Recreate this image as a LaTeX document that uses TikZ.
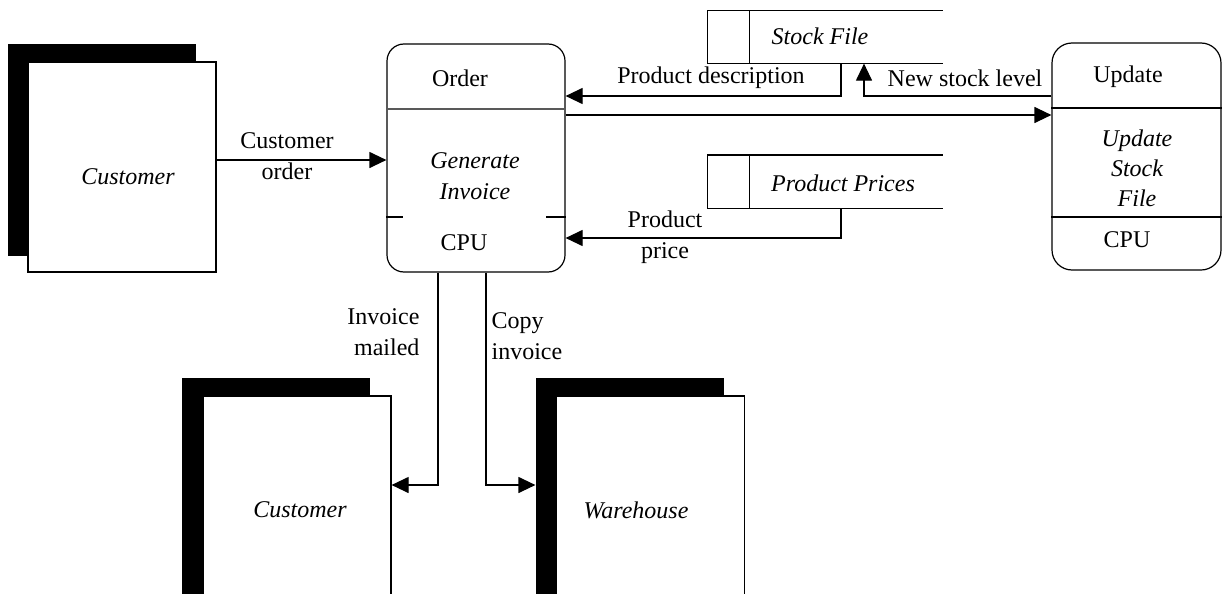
\documentclass[tikz,border=0pt]{standalone}
\usepackage{fontspec}
\setmainfont{Liberation Serif}
\usetikzlibrary{arrows.meta}
\begin{document}
\begin{tikzpicture}[x=1pt,y=-1pt,
  line width=1.2pt,
  every node/.style={font=\fontsize{24}{31}\selectfont, inner sep=0pt},
  flow/.style={-{Triangle[length=17pt,width=16pt]}},
  entity/.style={draw, fill=white, minimum width=188pt},
  entshadow/.style={fill=black, minimum width=188pt},
  proc/.style={draw, rounded corners=17pt},
  datastore/.style={minimum width=234pt, minimum height=52pt},
  lbl/.style={align=center},
  ename/.style={font=\fontsize{24}{31}\selectfont\itshape, align=center}]
\useasboundingbox (0,0) rectangle (1223,594);

% external entity: customer (source)
\node[entshadow, minimum height=212pt] (custsh) at (102,150) {};
\node[entity, minimum height=210pt] (cust) at (122,167) {};
\node[ename] at (128,177) {Customer};

% process: generate invoice
\node[proc, minimum width=178pt, minimum height=228pt] (order) at (476,158) {};
\draw[gray!70!black, line width=1.6pt] ([yshift=49pt]order.west) -- ([yshift=49pt]order.east);
\draw ([yshift=-59pt]order.west) -- ++(17,0);
\draw ([yshift=-59pt]order.east) -- ++(-20,0);
\node at (460,78) {Order};
\node[ename] at (475,176) {Generate\\Invoice};
\node at (464,243) {CPU};

% process: update stock file
\node[proc, rounded corners=20pt, minimum width=169pt, minimum height=227pt] (update) at (1136.5,156.5) {};
\draw ([yshift=48.5pt]update.west) -- ([yshift=48.5pt]update.east);
\draw ([yshift=-60.5pt]update.west) -- ([yshift=-60.5pt]update.east);
\node at (1128,77) {Update};
\node[font=\fontsize{24}{30}\selectfont\itshape, align=center] at (1137,168) {Update\\Stock\\File};
\node at (1127,240) {CPU};

% data stores
\node[datastore] (stock) at (825,37) {};
\draw (stock.north east) -- (stock.north west) -- (stock.south west) -- (stock.south east);
\draw ([xshift=42pt]stock.north west) -- ([xshift=42pt]stock.south west);
\node[ename] at (820,36) {Stock File};

\node[datastore] (prices) at (825,181.5) {};
\draw (prices.north east) -- (prices.north west) -- (prices.south west) -- (prices.south east);
\draw ([xshift=42pt]prices.north west) -- ([xshift=42pt]prices.south west);
\node[ename] at (843,183) {Product Prices};

% external entities: customer and warehouse (sinks)
\node[entshadow, minimum height=240pt] (cust2sh) at (276,498) {};
\node[entity, minimum height=240pt] (cust2) at (297,516) {};
\node[ename] at (300,510) {Customer};

\node[entshadow, minimum height=240pt] (whsh) at (630,498) {};
\node[entity, minimum height=240pt] (wh) at (650.5,516) {};
\node[ename] at (636,510) {Warehouse};

% data flows
\draw[flow] ([yshift=7pt]cust.east) -- ([yshift=7pt]cust.east -| order.west);
\node[lbl] at (287,156) {Customer\\order};

\draw[flow] ([xshift=16pt]stock.south) |- ([yshift=62pt]order.east);
\node at (711,78) {Product description};

\draw[flow] ([yshift=60.5pt]update.west) -| ([xshift=39pt]stock.south);
\node at (965,78) {New stock level};

\draw[flow] ([yshift=43pt]order.east) -- ([yshift=43pt]order.east -| update.west);

\draw[flow] ([xshift=16pt]prices.south) |- ([yshift=-80pt]order.east);
\node[lbl] at (665,237) {Product\\price};

\draw[flow] ([xshift=-38pt]order.south) |- ([yshift=31pt]cust2.east);
\node[align=right, anchor=east] at (420,332) {Invoice\\mailed};

\draw[flow] ([xshift=10pt]order.south) |- ([yshift=13pt]whsh.west);
\node[align=left, anchor=west] at (491,336) {Copy\\invoice};
\end{tikzpicture}
\end{document}
